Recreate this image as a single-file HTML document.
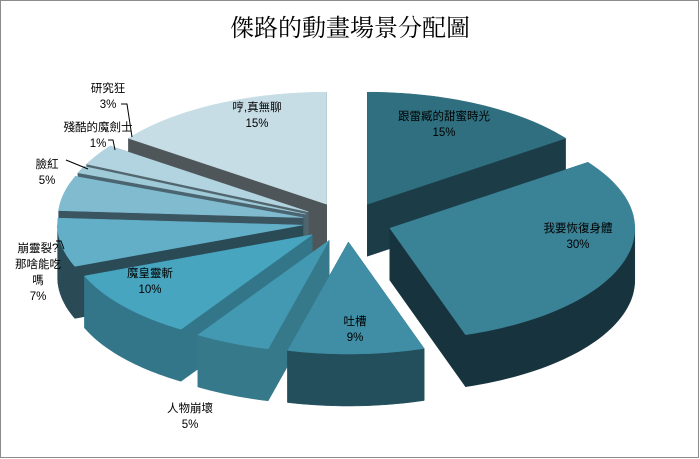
<!DOCTYPE html>
<html><head><meta charset="utf-8">
<style>
html,body{margin:0;padding:0;background:#fff;}
#wrap{position:relative;width:700px;height:459px;overflow:hidden;}
svg text{font-family:"Liberation Sans","Noto Sans CJK TC",sans-serif;}
</style></head>
<body>
<div id="wrap">
<svg id="chart" width="700" height="459" viewBox="0 0 700 459">
<rect x="0.5" y="0.5" width="698" height="457" fill="#fff" stroke="#8c8c8c"/>
<text x="350" y="36" text-anchor="middle" font-size="24" fill="#000" style="font-family:'Liberation Serif','Noto Serif CJK SC',serif">傑路的動畫場景分配圖</text>
<g id="slices"></g>
<g id="labels"></g>
</svg>
</div>
<script>
const categories = ["跟雷臧的甜蜜時光","我要恢復身體","吐槽","人物崩壞","魔皇靈斬","崩靈裂?那啥能吃嗎","臉紅","殘酷的魔劍士","研究狂","哼,真無聊"];
const values = [15,30,9,5,10,7,5,1,3,15];
const pctLabels = ["15%","30%","9%","5%","10%","7%","5%","1%","3%","15%"];
const topColors = ["#2f6f7f","#3a8296","#3f8ea5","#4399b2","#47a5bf","#63afc8","#80bbd0","#9fcad8","#b2d3e0","#c7dde6"];
const sideColors = ["#1c3d47","#17343e","#234f5d","#36798b","#33768a","#2a4a55","#3a5560","#4a6570","#52666e","#4f565a"];

const cx=347, cy=222, rx=245, ry=112, depth=52, ex=45, ey=20;
const NS="http://www.w3.org/2000/svg";
const total=values.reduce((a,b)=>a+b,0);
function pt(o,th,dz){return [o[0]+rx*Math.sin(th), o[1]-ry*Math.cos(th)+dz];}
function poly(points,fill,name){
  const p=document.createElementNS(NS,"polygon");
  p.setAttribute("points",points.map(q=>q[0].toFixed(1)+","+q[1].toFixed(1)).join(" "));
  p.setAttribute("fill",fill);
  p.setAttribute("stroke",fill);
  p.setAttribute("stroke-width","0.5");
  
  
  return p;
}
const g=document.getElementById("slices");
let acc=0;
const sl=values.map((v,i)=>{const a0=acc/total*2*Math.PI;acc+=v;const a1=acc/total*2*Math.PI;
  const m=(a0+a1)/2;return {i,a0,a1,m,o:[cx+ex*Math.sin(m),cy-ey*Math.cos(m)]};});
sl.slice().sort((a,b)=>(-Math.cos(a.m))-(-Math.cos(b.m))).forEach(s=>{
  const grp=document.createElementNS(NS,"g");
  
  
  const o=s.o, c0=[o[0],o[1]], c1=[o[0],o[1]+depth];
  [s.a0,s.a1].forEach((a)=>{
    const p=pt(o,a,0), q=pt(o,a,depth);
    grp.appendChild(poly([c0,p,q,c1],sideColors[s.i],'slice-wall'));
  });
  const lo=Math.max(s.a0,Math.PI/2), hi=Math.min(s.a1,3*Math.PI/2);
  if(hi>lo){
    const top=[],bot=[];const n=40;
    for(let k=0;k<=n;k++){const a=lo+(hi-lo)*k/n;top.push(pt(o,a,0));bot.push(pt(o,a,depth));}
    grp.appendChild(poly(top.concat(bot.reverse()),sideColors[s.i],'slice-outer-wall'));
  }
  const pts=[c0];const n=60;
  for(let k=0;k<=n;k++){pts.push(pt(o,s.a0+(s.a1-s.a0)*k/n,0));}
  grp.appendChild(poly(pts,topColors[s.i],'slice-top'));
  g.appendChild(grp);
});

const labelPos=[[444,120,["跟雷臧的甜蜜時光"]],[578,232,["我要恢復身體"]],[355,325,["吐槽"]],[190,412,["人物崩壞"]],[150,277,["魔皇靈斬"]],[38,252,["崩靈裂?","那啥能吃","嗎"]],[47,168,["臉紅"]],[98,131,["殘酷的魔劍士"]],[108,92,["研究狂"]],[257,111,["哼,真無聊"]]];
const L=document.getElementById("labels");
labelPos.forEach((lp,i)=>{
  const [x,y,lines]=lp;
  lines.concat([pctLabels[i]]).forEach((t,k)=>{
    const tx=document.createElementNS(NS,"text");
    tx.setAttribute("x",x);tx.setAttribute("y",y+k*16);
    tx.setAttribute("text-anchor","middle");tx.setAttribute("font-size","11.5");tx.setAttribute("fill","#000");
    tx.textContent=t;
    
    
    L.appendChild(tx);
  });
});
const leaders=[[[66,160],[88,169]],[[108,140],[113,140],[115,150]],[[121,104],[127,104],[132,137]],[[56,241],[61,241],[64,249]]];
leaders.forEach(pl=>{
  const p=document.createElementNS(NS,"polyline");
  p.setAttribute("points",pl.map(q=>q.join(",")).join(" "));
  p.setAttribute("fill","none");p.setAttribute("stroke","#000");p.setAttribute("stroke-width","1");
  
  
  L.appendChild(p);
});
</script>
</body></html>
